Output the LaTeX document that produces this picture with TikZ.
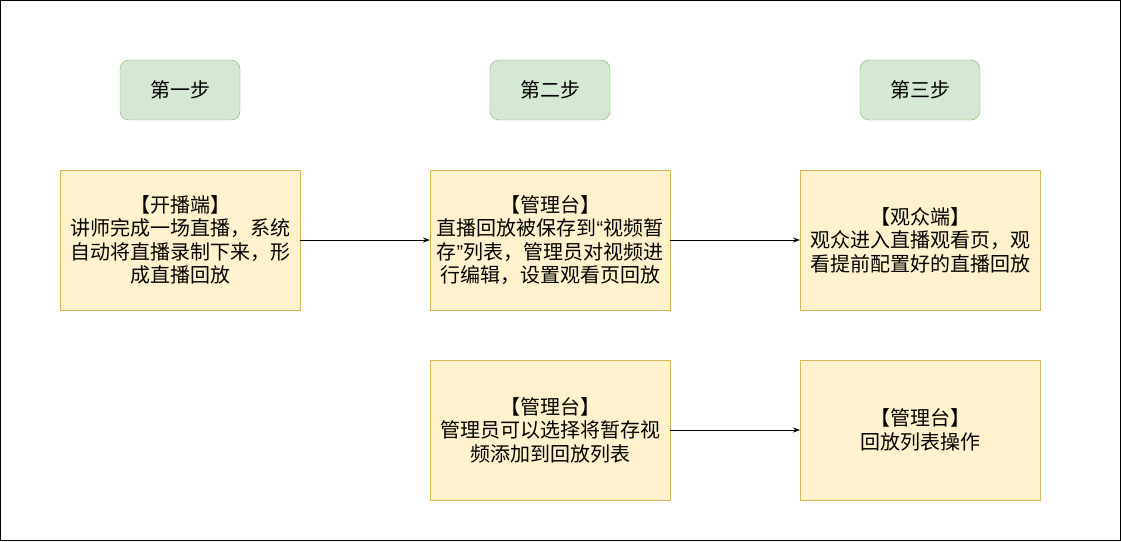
\documentclass[tikz,border=0pt]{standalone}
\usepackage{fontspec}
\usepackage{tikz}
\usetikzlibrary{arrows.meta,positioning}
\newfontfamily\cjk{Noto Sans CJK SC}
\newfontfamily\quo{Liberation Sans}
\definecolor{stepFill}{HTML}{D5E8D4}
\definecolor{stepLine}{HTML}{82B366}
\definecolor{boxFill}{HTML}{FFF2CC}
\definecolor{boxLine}{HTML}{D6B656}

\begin{document}
\begin{tikzpicture}[x=1pt,y=-1pt,
    every node/.style={font=\cjk\fontsize{20}{23.5}\selectfont},
    stepbox/.style={draw=stepLine,fill=stepFill,rounded corners=9pt,
      minimum width=120pt,minimum height=60pt,inner sep=0pt,outer sep=0pt},
    infobox/.style={draw=boxLine,fill=boxFill,align=center,
      minimum width=240pt,minimum height=140pt,inner sep=0pt,outer sep=0pt},
    flow/.style={-{Stealth[length=7pt,width=5pt]},line width=0.8pt}]

      % frame
      \useasboundingbox (0,0) rectangle (1121,541);
      \draw [line width=1pt] (0.5,0.5) rectangle (1120.5,540.5);

      % the three steps
      \node [stepbox] (stepone)   at (180,90) {第一步};
      \node [stepbox] (steptwo)   at (550,90) {第二步};
      \node [stepbox] (stepthree) at (920,90) {第三步};

      % the boxes under them
      \node [infobox, below=50pt of stepone] (anchor)
        {【开播端】\\讲师完成一场直播，系统\\自动将直播录制下来，形\\成直播回放};
      \node [infobox, below=50pt of steptwo] (console)
        {【管理台】\\直播回放被保存到{\quo “}视频暂\\存{\quo ”}列表，管理员对视频进\\行编辑，设置观看页回放};
      \node [infobox, below=50pt of stepthree] (viewer)
        {【观众端】\\观众进入直播观看页，观\\看提前配置好的直播回放};
      \node [infobox, below=50pt of console] (addlist)
        {【管理台】\\管理员可以选择将暂存视\\频添加到回放列表};
      \node [infobox, below=50pt of viewer] (listop)
        {【管理台】\\回放列表操作};

      % arrows
      \draw [flow] (anchor) -- (console);
      \draw [flow] (console) -- (viewer);
      \draw [flow] (addlist) -- (listop);

\end{tikzpicture}
\end{document}
